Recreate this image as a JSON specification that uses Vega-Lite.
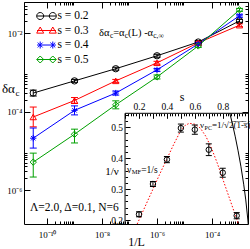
{
"$schema": "https://vega.github.io/schema/vega-lite/v6.json",
"width": 224, "height": 222,
"autosize": {"type": "none"},
"padding": {"left": 24, "top": 2, "right": 2, "bottom": 25},
"background": "white",
"config": {
  "view": {"stroke": "black", "strokeWidth": 1},
  "axis": {"grid": false, "domain": false, "tickColor": "black", "labelColor": "black", "titleColor": "black", "labelFont": "Liberation Serif", "titleFont": "Liberation Serif", "titleFontWeight": "normal", "labelFlush": false, "labelOverlap": false, "labelBound": false, "tickWidth": 1},
  "text": {"font": "Liberation Serif", "color": "black"}
},
"datasets": {
  "main": [
    {"s":"0.2","invL":3.162e-11,"dac":2.95e-4,"lo":2.48e-4,"hi":3.51e-4},
    {"s":"0.2","invL":1e-9,"dac":6.03e-4,"lo":5.53e-4,"hi":6.57e-4},
    {"s":"0.2","invL":3.162e-8,"dac":1.23e-3,"lo":1.13e-3,"hi":1.34e-3},
    {"s":"0.2","invL":1e-6,"dac":2.63e-3,"lo":2.41e-3,"hi":2.87e-3},
    {"s":"0.2","invL":3.162e-5,"dac":5.89e-3,"lo":5.4e-3,"hi":6.42e-3},
    {"s":"0.2","invL":1e-3,"dac":2.04e-2,"lo":1.87e-2,"hi":2.22e-2},
    {"s":"0.3","invL":3.162e-11,"dac":7.24e-5,"lo":4.07e-5,"hi":1.3e-4},
    {"s":"0.3","invL":1e-9,"dac":1.91e-4,"lo":1.6e-4,"hi":2.27e-4},
    {"s":"0.3","invL":3.162e-8,"dac":6.03e-4,"lo":5.53e-4,"hi":6.57e-4},
    {"s":"0.3","invL":1e-6,"dac":1.74e-3,"lo":1.6e-3,"hi":1.9e-3},
    {"s":"0.3","invL":3.162e-5,"dac":5.62e-3,"lo":5.15e-3,"hi":6.13e-3},
    {"s":"0.3","invL":1e-3,"dac":1.58e-2,"lo":1.45e-2,"hi":1.72e-2},
    {"s":"0.4","invL":3.162e-11,"dac":2.09e-5,"lo":1.17e-5,"hi":3.8e-5},
    {"s":"0.4","invL":1e-9,"dac":1.07e-4,"lo":8.2e-5,"hi":1.39e-4},
    {"s":"0.4","invL":3.162e-8,"dac":2.95e-4,"lo":2.62e-4,"hi":3.32e-4},
    {"s":"0.4","invL":1e-6,"dac":1.15e-3,"lo":1.05e-3,"hi":1.25e-3},
    {"s":"0.4","invL":3.162e-5,"dac":5.25e-3,"lo":4.81e-3,"hi":5.72e-3},
    {"s":"0.4","invL":1e-3,"dac":2.75e-2,"lo":2.52e-2,"hi":3.0e-2},
    {"s":"0.5","invL":3.162e-11,"dac":5.13e-6,"lo":2.14e-6,"hi":8.7e-6},
    {"s":"0.5","invL":1e-9,"dac":2.63e-5,"lo":1.58e-5,"hi":3.55e-5},
    {"s":"0.5","invL":3.162e-8,"dac":1.48e-4,"lo":1.17e-4,"hi":1.87e-4},
    {"s":"0.5","invL":1e-6,"dac":7.59e-4,"lo":6.75e-4,"hi":8.53e-4},
    {"s":"0.5","invL":3.162e-5,"dac":4.68e-3,"lo":4.29e-3,"hi":5.1e-3},
    {"s":"0.5","invL":1e-3,"dac":3.89e-2,"lo":3.57e-2,"hi":4.24e-2}
  ],
  "inset": [
    {"s":0.2,"nu":0.2185,"lo":0.2105,"hi":0.2265},
    {"s":0.3,"nu":0.3165,"lo":0.3085,"hi":0.3245},
    {"s":0.4,"nu":0.3955,"lo":0.3855,"hi":0.4055},
    {"s":0.5,"nu":0.4975,"lo":0.4845,"hi":0.5105},
    {"s":0.6,"nu":0.4925,"lo":0.4775,"hi":0.5075},
    {"s":0.7,"nu":0.4275,"lo":0.4085,"hi":0.4465},
    {"s":0.8,"nu":0.353,"lo":0.3385,"hi":0.3675},
    {"s":0.9,"nu":0.214,"lo":0.204,"hi":0.224}
  ],
  "mf": [
    {"s":0.187,"nu":0.187},{"s":0.25,"nu":0.25},{"s":0.3,"nu":0.3},{"s":0.35,"nu":0.35},{"s":0.4,"nu":0.398},{"s":0.45,"nu":0.446},{"s":0.5,"nu":0.49},{"s":0.53,"nu":0.506},{"s":0.56,"nu":0.513},{"s":0.6,"nu":0.51},{"s":0.64,"nu":0.497},{"s":0.68,"nu":0.47},{"s":0.72,"nu":0.432},{"s":0.76,"nu":0.385},{"s":0.8,"nu":0.333},{"s":0.85,"nu":0.268},{"s":0.9,"nu":0.203},{"s":0.912,"nu":0.187}
  ],
  "pc": [
    {"s":0.851,"nu":0.545},{"s":0.87,"nu":0.51},{"s":0.89,"nu":0.469},{"s":0.91,"nu":0.424},{"s":0.93,"nu":0.374},{"s":0.95,"nu":0.316},{"s":0.965,"nu":0.265},{"s":0.98,"nu":0.2},{"s":0.983,"nu":0.184}
  ]
},
"layer": [
  {
    "data": {"name": "main"},
    "layer": [
      {
        "mark": {"type": "line", "strokeWidth": 1},
        "encoding": {
          "x": {"field": "invL", "type": "quantitative", "scale": {"type": "log", "domain": [1.459e-11, 2.037e-3], "nice": false},
                "axis": {"orient": "bottom", "values": [1e-10, 1e-8, 1e-6, 1e-4], "labelExpr": "datum.value === 1e-10 ? '10⁻¹⁰' : datum.value === 1e-8 ? '10⁻⁸' : datum.value === 1e-6 ? '10⁻⁶' : '10⁻⁴'", "tickSize": -6, "labelPadding": 12, "labelFontSize": 9, "title": "1/L", "titleFontSize": 12, "titlePadding": -3}},
          "y": {"field": "dac", "type": "quantitative", "scale": {"type": "log", "domain": [1.361e-7, 0.06166], "nice": false},
                "axis": {"orient": "left", "values": [1e-2, 1e-4, 1e-6], "labelExpr": "datum.value === 1e-2 ? '10⁻²' : datum.value === 1e-4 ? '10⁻⁴' : '10⁻⁶'", "tickSize": -6, "labelPadding": 8, "labelFontSize": 9, "title": null}},
          "color": {"field": "s", "type": "nominal", "scale": {"domain": ["0.2","0.3","0.4","0.5"], "range": ["#000000","#ff0000","#0000ff","#00a000"]}, "legend": null}
        }
      },
      {
        "mark": {"type": "rule", "strokeWidth": 1},
        "encoding": {
          "x": {"field": "invL", "type": "quantitative", "axis": {"orient": "bottom", "values": [2e-10,3e-10,4e-10,5e-10,6e-10,7e-10,8e-10,9e-10,2e-8,3e-8,4e-8,5e-8,6e-8,7e-8,8e-8,9e-8,2e-6,3e-6,4e-6,5e-6,6e-6,7e-6,8e-6,9e-6,2e-4,3e-4,4e-4,5e-4,6e-4,7e-4,8e-4,9e-4], "labels": false, "tickSize": -3, "title": null}},
          "y": {"field": "lo", "type": "quantitative", "axis": {"orient": "left", "values": [2e-2,3e-2,4e-2,5e-2,6e-2,2e-4,3e-4,4e-4,5e-4,6e-4,7e-4,8e-4,9e-4,2e-6,3e-6,4e-6,5e-6,6e-6,7e-6,8e-6,9e-6], "labels": false, "tickSize": -3, "title": null}},
          "y2": {"field": "hi"},
          "color": {"field": "s", "type": "nominal", "legend": null}
        }
      },
      {
        "mark": {"type": "tick", "orient": "horizontal", "size": 7, "thickness": 1, "opacity": 1},
        "encoding": {
          "x": {"field": "invL", "type": "quantitative", "axis": {"orient": "top", "values": [1e-10, 1e-8, 1e-6, 1e-4], "labels": false, "tickSize": -6, "title": null}},
          "y": {"field": "lo", "type": "quantitative", "axis": {"orient": "right", "values": [1e-2, 1e-4, 1e-6], "labels": false, "tickSize": -6, "title": null}},
          "color": {"field": "s", "type": "nominal", "legend": null}
        }
      },
      {
        "mark": {"type": "tick", "orient": "horizontal", "size": 7, "thickness": 1, "opacity": 1},
        "encoding": {
          "x": {"field": "invL", "type": "quantitative", "axis": {"orient": "top", "values": [2e-10,3e-10,4e-10,5e-10,6e-10,7e-10,8e-10,9e-10,2e-8,3e-8,4e-8,5e-8,6e-8,7e-8,8e-8,9e-8,2e-6,3e-6,4e-6,5e-6,6e-6,7e-6,8e-6,9e-6,2e-4,3e-4,4e-4,5e-4,6e-4,7e-4,8e-4,9e-4], "labels": false, "tickSize": -3, "title": null}},
          "y": {"field": "hi", "type": "quantitative", "axis": {"orient": "right", "values": [2e-2,3e-2,4e-2,5e-2,6e-2,2e-4,3e-4,4e-4,5e-4,6e-4,7e-4,8e-4,9e-4,2e-6,3e-6,4e-6,5e-6,6e-6,7e-6,8e-6,9e-6], "labels": false, "tickSize": -3, "title": null}},
          "color": {"field": "s", "type": "nominal", "legend": null}
        }
      },
      {
        "mark": {"type": "point", "filled": false, "size": 40, "strokeWidth": 1, "opacity": 1},
        "encoding": {
          "x": {"field": "invL", "type": "quantitative", "axis": null},
          "y": {"field": "dac", "type": "quantitative", "axis": null},
          "color": {"field": "s", "type": "nominal", "legend": null},
          "shape": {"field": "s", "type": "nominal", "scale": {"domain": ["0.2","0.3","0.4","0.5"], "range": ["circle", "triangle-up", "M-1,0L1,0M0,-1L0,1M-0.7,-0.7L0.7,0.7M-0.7,0.7L0.7,-0.7", "diamond"]}, "legend": null}
        }
      },
      {
        "data": {"values": [{}]},
        "mark": {"type": "point", "filled": false, "size": 49, "strokeWidth": 1, "opacity": 1, "color": "#000000", "shape": "M-2.7,0L2.7,0M-2.8,0A1,1 0 1,0 -0.8,0A1,1 0 1,0 -2.8,0M0.8,0A1,1 0 1,0 2.8,0A1,1 0 1,0 0.8,0"},
        "encoding": {"x": {"datum": 9.59e-11, "type": "quantitative", "axis": null}, "y": {"datum": 0.0271, "type": "quantitative", "axis": null}}
      },
      {
        "data": {"values": [{}]},
        "mark": {"type": "point", "filled": false, "size": 49, "strokeWidth": 1, "opacity": 1, "color": "#ff0000", "shape": "M-2.7,0L2.7,0M-1.8,-1L-0.8,0.75L-2.8,0.75ZM1.8,-1L2.8,0.75L0.8,0.75Z"},
        "encoding": {"x": {"datum": 9.59e-11, "type": "quantitative", "axis": null}, "y": {"datum": 0.01158, "type": "quantitative", "axis": null}}
      },
      {
        "data": {"values": [{}]},
        "mark": {"type": "point", "filled": false, "size": 49, "strokeWidth": 1, "opacity": 1, "color": "#0000ff", "shape": "M-2.7,0L2.7,0M-1.8,-1L-1.8,1M-2.5,-0.7L-1.1,0.7M-2.5,0.7L-1.1,-0.7M1.8,-1L1.8,1M1.1,-0.7L2.5,0.7M1.1,0.7L2.5,-0.7"},
        "encoding": {"x": {"datum": 9.59e-11, "type": "quantitative", "axis": null}, "y": {"datum": 0.004943, "type": "quantitative", "axis": null}}
      },
      {
        "data": {"values": [{}]},
        "mark": {"type": "point", "filled": false, "size": 49, "strokeWidth": 1, "opacity": 1, "color": "#00a000", "shape": "M-2.7,0L2.7,0M-1.8,-1L-0.8,0L-1.8,1L-2.8,0ZM1.8,-1L2.8,0L1.8,1L0.8,0Z"},
        "encoding": {"x": {"datum": 9.59e-11, "type": "quantitative", "axis": null}, "y": {"datum": 0.002113, "type": "quantitative", "axis": null}}
      },
      {
        "data": {"values": [{}]},
        "mark": {"type": "text", "align": "left", "baseline": "middle", "fontSize": 11.5, "text": "s = 0.2"},
        "encoding": {"x": {"datum": 2.41e-10, "type": "quantitative", "axis": null}, "y": {"datum": 0.0271, "type": "quantitative", "axis": null}}
      },
      {
        "data": {"values": [{}]},
        "mark": {"type": "text", "align": "left", "baseline": "middle", "fontSize": 11.5, "text": "s = 0.3"},
        "encoding": {"x": {"datum": 2.41e-10, "type": "quantitative", "axis": null}, "y": {"datum": 0.01158, "type": "quantitative", "axis": null}}
      },
      {
        "data": {"values": [{}]},
        "mark": {"type": "text", "align": "left", "baseline": "middle", "fontSize": 11.5, "text": "s = 0.4"},
        "encoding": {"x": {"datum": 2.41e-10, "type": "quantitative", "axis": null}, "y": {"datum": 0.004943, "type": "quantitative", "axis": null}}
      },
      {
        "data": {"values": [{}]},
        "mark": {"type": "text", "align": "left", "baseline": "middle", "fontSize": 11.5, "text": "s = 0.5"},
        "encoding": {"x": {"datum": 2.41e-10, "type": "quantitative", "axis": null}, "y": {"datum": 0.002113, "type": "quantitative", "axis": null}}
      },
      {
        "data": {"values": [{}]},
        "mark": {"type": "text", "align": "left", "baseline": "middle", "fontSize": 11.5, "text": "Λ=2.0, Δ=0.1, N=6"},
        "encoding": {"x": {"datum": 2.41e-11, "type": "quantitative", "axis": null}, "y": {"datum": 3.47e-7, "type": "quantitative", "axis": null}}
      },
      {
        "data": {"values": [{}]},
        "mark": {"type": "text", "align": "left", "baseline": "middle", "fontSize": 10.5, "text": "δα"},
        "encoding": {"x": {"datum": 7.78e-9, "type": "quantitative", "axis": null}, "y": {"datum": 0.01, "type": "quantitative", "axis": null}}
      },
      {
        "data": {"values": [{}]},
        "mark": {"type": "text", "align": "left", "baseline": "middle", "fontSize": 7.5, "text": "c", "dx": 10.9, "dy": 3},
        "encoding": {"x": {"datum": 7.78e-9, "type": "quantitative", "axis": null}, "y": {"datum": 0.01, "type": "quantitative", "axis": null}}
      },
      {
        "data": {"values": [{}]},
        "mark": {"type": "text", "align": "left", "baseline": "middle", "fontSize": 10.5, "text": "=α", "dx": 14.2},
        "encoding": {"x": {"datum": 7.78e-9, "type": "quantitative", "axis": null}, "y": {"datum": 0.01, "type": "quantitative", "axis": null}}
      },
      {
        "data": {"values": [{}]},
        "mark": {"type": "text", "align": "left", "baseline": "middle", "fontSize": 7.5, "text": "c", "dx": 25.8, "dy": 3},
        "encoding": {"x": {"datum": 7.78e-9, "type": "quantitative", "axis": null}, "y": {"datum": 0.01, "type": "quantitative", "axis": null}}
      },
      {
        "data": {"values": [{}]},
        "mark": {"type": "text", "align": "left", "baseline": "middle", "fontSize": 10.5, "text": "(L) -α", "dx": 29.1},
        "encoding": {"x": {"datum": 7.78e-9, "type": "quantitative", "axis": null}, "y": {"datum": 0.01, "type": "quantitative", "axis": null}}
      },
      {
        "data": {"values": [{}]},
        "mark": {"type": "text", "align": "left", "baseline": "middle", "fontSize": 7.5, "text": "c,∞", "dx": 54.3, "dy": 3},
        "encoding": {"x": {"datum": 7.78e-9, "type": "quantitative", "axis": null}, "y": {"datum": 0.01, "type": "quantitative", "axis": null}}
      },
      {
        "data": {"values": [{}]},
        "mark": {"type": "text", "align": "left", "baseline": "middle", "fontSize": 13, "text": "δα"},
        "encoding": {"x": {"datum": 2.31e-12, "type": "quantitative", "axis": null}, "y": {"datum": 3.74e-4, "type": "quantitative", "axis": null}}
      },
      {
        "data": {"values": [{}]},
        "mark": {"type": "text", "align": "left", "baseline": "middle", "fontSize": 9, "text": "c", "dx": 13.5, "dy": 4},
        "encoding": {"x": {"datum": 2.31e-12, "type": "quantitative", "axis": null}, "y": {"datum": 3.74e-4, "type": "quantitative", "axis": null}}
      }
    ],
    "resolve": {"axis": {"x": "independent", "y": "independent"}}
  },
  {
    "data": {"name": "inset"},
    "layer": [
      {
        "data": {"values": [{}]},
        "mark": {"type": "rect", "filled": false, "stroke": "black", "strokeWidth": 1, "clip": true},
        "encoding": {
          "x": {"datum": 0.1, "type": "quantitative", "scale": {"domain": [-0.624, 0.981], "nice": false, "zero": false}, "axis": null},
          "x2": {"datum": 1.5},
          "y": {"datum": 0.0, "type": "quantitative", "scale": {"domain": [0.1871, 0.9055], "nice": false, "zero": false}, "axis": null},
          "y2": {"datum": 0.5453}
        }
      },
      {
        "data": {"name": "mf"},
        "mark": {"type": "line", "color": "#ff0000", "strokeWidth": 1, "strokeDash": [1.5, 1.8], "clip": true},
        "encoding": {
          "x": {"field": "s", "type": "quantitative", "scale": {"domain": [-0.624, 0.981], "nice": false, "zero": false}, "axis": null},
          "y": {"field": "nu", "type": "quantitative", "scale": {"domain": [0.1871, 0.9055], "nice": false, "zero": false}, "axis": null}
        }
      },
      {
        "data": {"name": "pc"},
        "mark": {"type": "line", "color": "black", "strokeWidth": 1, "clip": true},
        "encoding": {
          "x": {"field": "s", "type": "quantitative", "axis": null},
          "y": {"field": "nu", "type": "quantitative", "axis": null}
        }
      },
      {
        "mark": {"type": "rule", "color": "black", "strokeWidth": 1},
        "encoding": {
          "x": {"field": "s", "type": "quantitative", "axis": {"orient": "top", "offset": -111.3, "values": [0.12,0.14,0.16,0.18,0.22,0.24,0.26,0.28,0.32,0.34,0.36,0.38,0.42,0.44,0.46,0.48,0.52,0.54,0.56,0.58,0.62,0.64,0.66,0.68,0.72,0.74,0.76,0.78,0.82,0.84,0.86,0.88,0.92,0.94,0.96,0.98], "labels": false, "tickSize": -2.5, "title": null}},
          "y": {"field": "lo", "type": "quantitative", "axis": {"orient": "left", "offset": -101.05, "values": [0.22,0.24,0.26,0.28,0.32,0.34,0.36,0.38,0.42,0.44,0.46,0.48,0.52,0.54], "labels": false, "tickSize": -2.5, "title": null}},
          "y2": {"field": "hi"}
        }
      },
      {
        "mark": {"type": "tick", "orient": "horizontal", "size": 6, "thickness": 1, "color": "black", "opacity": 1},
        "encoding": {"x": {"field": "s", "type": "quantitative", "axis": null}, "y": {"field": "lo", "type": "quantitative", "axis": null}}
      },
      {
        "mark": {"type": "tick", "orient": "horizontal", "size": 6, "thickness": 1, "color": "black", "opacity": 1},
        "encoding": {"x": {"field": "s", "type": "quantitative", "axis": null}, "y": {"field": "hi", "type": "quantitative", "axis": null}}
      },
      {
        "mark": {"type": "point", "shape": "circle", "filled": false, "size": 30, "color": "black", "strokeWidth": 1, "opacity": 1},
        "encoding": {
          "x": {"field": "s", "type": "quantitative", "axis": {"orient": "top", "offset": -111.3, "values": [0.1,0.2,0.3,0.4,0.5,0.6,0.7,0.8,0.9], "labelExpr": "(datum.value === 0.2 || datum.value === 0.4 || datum.value === 0.6 || datum.value === 0.8) ? format(datum.value, '.1f') : ''", "tickSize": -5, "labelPadding": 7, "labelFontSize": 9.5, "title": null}},
          "y": {"field": "nu", "type": "quantitative", "axis": {"orient": "left", "offset": -101.05, "values": [0.2,0.3,0.4,0.5], "format": ".1f", "tickSize": -5, "labelPadding": 7.5, "labelFontSize": 9.5, "title": null}}
        }
      },
      {
        "data": {"values": [{}]},
        "mark": {"type": "text", "align": "center", "baseline": "middle", "fontSize": 12, "text": "s"},
        "encoding": {"x": {"datum": 0.508, "type": "quantitative", "axis": null}, "y": {"datum": 0.598, "type": "quantitative", "axis": null}}
      },
      {
        "data": {"values": [{}]},
        "mark": {"type": "text", "align": "center", "baseline": "middle", "fontSize": 11, "text": "1/ν"},
        "encoding": {"x": {"datum": 0.0065, "type": "quantitative", "axis": null}, "y": {"datum": 0.3553, "type": "quantitative", "axis": null}}
      },
      {
        "data": {"values": [{}]},
        "mark": {"type": "text", "align": "left", "baseline": "middle", "fontSize": 9.5, "text": "ν"},
        "encoding": {"x": {"datum": 0.114, "type": "quantitative", "axis": null}, "y": {"datum": 0.362, "type": "quantitative", "axis": null}}
      },
      {
        "data": {"values": [{}]},
        "mark": {"type": "text", "align": "left", "baseline": "middle", "fontSize": 6.5, "text": "MF", "dx": 4.8, "dy": 2.5},
        "encoding": {"x": {"datum": 0.114, "type": "quantitative", "axis": null}, "y": {"datum": 0.362, "type": "quantitative", "axis": null}}
      },
      {
        "data": {"values": [{}]},
        "mark": {"type": "text", "align": "left", "baseline": "middle", "fontSize": 9.5, "text": "=1/s", "dx": 14.2},
        "encoding": {"x": {"datum": 0.114, "type": "quantitative", "axis": null}, "y": {"datum": 0.362, "type": "quantitative", "axis": null}}
      },
      {
        "data": {"values": [{}]},
        "mark": {"type": "text", "align": "left", "baseline": "middle", "fontSize": 9, "text": "ν"},
        "encoding": {"x": {"datum": 0.637, "type": "quantitative", "axis": null}, "y": {"datum": 0.5065, "type": "quantitative", "axis": null}}
      },
      {
        "data": {"values": [{}]},
        "mark": {"type": "text", "align": "left", "baseline": "middle", "fontSize": 6, "text": "PC", "dx": 4.6, "dy": 2.5},
        "encoding": {"x": {"datum": 0.637, "type": "quantitative", "axis": null}, "y": {"datum": 0.5065, "type": "quantitative", "axis": null}}
      },
      {
        "data": {"values": [{}]},
        "mark": {"type": "text", "align": "left", "baseline": "middle", "fontSize": 9, "text": "=1/√2̅(̅1̅-̅s̅)̅", "dx": 12},
        "encoding": {"x": {"datum": 0.637, "type": "quantitative", "axis": null}, "y": {"datum": 0.5065, "type": "quantitative", "axis": null}}
      }
    ],
    "resolve": {"axis": {"x": "independent", "y": "independent"}}
  }
],
"resolve": {"scale": {"x": "independent", "y": "independent"}, "axis": {"x": "independent", "y": "independent"}}
}
